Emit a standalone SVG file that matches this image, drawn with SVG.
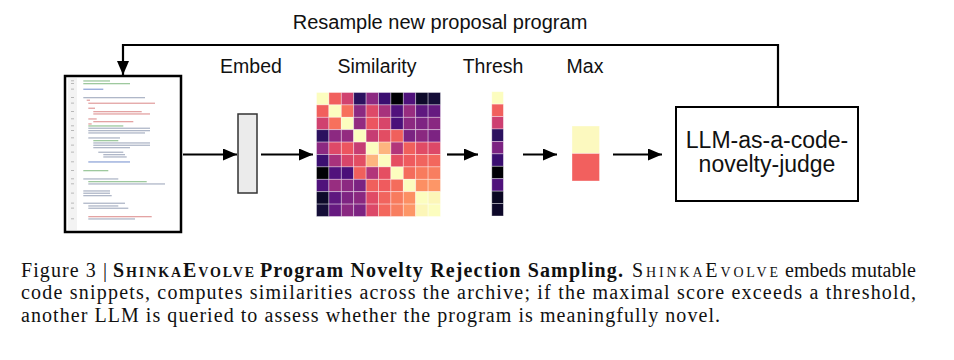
<svg xmlns="http://www.w3.org/2000/svg" width="954" height="360" viewBox="0 0 954 360">
<style>
.lbl{font-family:"Liberation Sans",Arial,sans-serif;font-size:19.5px;fill:#111;text-anchor:middle}
.llm{font-family:"Liberation Sans",Arial,sans-serif;font-size:23px;fill:#111;text-anchor:middle}
.cap{font-family:"Liberation Serif","Times New Roman",serif;font-size:20px;fill:#111}
.sc{font-variant:small-caps}
.b{font-weight:bold}
.conn{fill:none;stroke:#000;stroke-width:2.2}
.hc rect{stroke:#fff;stroke-opacity:.45;stroke-width:.8}
.cd{fill:#6e7c9a;opacity:.55}
.cg{fill:#5ea55e;opacity:.6}
.cr{fill:#d06565;opacity:.6}
.cb{fill:#4a6cc0;opacity:.6}
.ln{fill:#b8b8b8}
</style>
<defs>
<marker id="ah" markerUnits="userSpaceOnUse" markerWidth="15" markerHeight="13" refX="14" refY="6" orient="auto">
<path d="M0,0 L14,6 L0,12 z" fill="#000"/>
</marker>
</defs>

<text class="lbl" x="440" y="29" style="font-size:20px">Resample new proposal program</text>

<g id="connectors">
<path class="conn" d="M778,107 V45 H123 V75" marker-end="url(#ah)"/>
<line class="conn" x1="183" y1="154.5" x2="237" y2="154.5" marker-end="url(#ah)"/>
<line class="conn" x1="261" y1="154.5" x2="313" y2="154.5" marker-end="url(#ah)"/>
<line class="conn" x1="447" y1="154.5" x2="478" y2="154.5" marker-end="url(#ah)"/>
<line class="conn" x1="523" y1="154.5" x2="557" y2="154.5" marker-end="url(#ah)"/>
<line class="conn" x1="613" y1="154.5" x2="662" y2="154.5" marker-end="url(#ah)"/>
</g>

<g id="program">
<rect x="65" y="76" width="116" height="156" fill="#fff" stroke="#000" stroke-width="2.5"/>
<rect x="68" y="78" width="9" height="152" fill="#f3f3f3"/>
<g>
<rect class="cg" x="83.3" y="80.3" width="26.7" height="1.3"/>
<rect class="cg" x="83.3" y="83" width="46.7" height="1.3"/>
<rect class="cb" x="83.3" y="88.6" width="20" height="1.3"/>
<rect class="cd" x="83.3" y="97" width="61.7" height="1.3"/>
<rect class="cr" x="86.7" y="99.6" width="3.3" height="1.3"/>
<rect class="cr" x="88.3" y="102.6" width="66.7" height="1.3"/>
<rect class="cr" x="88.3" y="107.6" width="6.7" height="1.3"/>
<rect class="cr" x="93.3" y="111" width="48.4" height="1.3"/>
<rect class="cr" x="93.3" y="113.3" width="56.7" height="1.3"/>
<rect class="cr" x="88.3" y="118.3" width="8.4" height="1.3"/>
<rect class="cr" x="93.3" y="121" width="40" height="1.3"/>
<rect class="cr" x="88.3" y="123.3" width="3.4" height="1.3"/>
<rect class="cg" x="88.3" y="125.3" width="35" height="1.3"/>
<rect class="cd" x="88.3" y="127.6" width="61.7" height="1.3"/>
<rect class="cd" x="88.3" y="130" width="61.7" height="1.3"/>
<rect class="cd" x="88.3" y="132.3" width="56.7" height="1.3"/>
<rect class="cd" x="88.3" y="137.3" width="31.7" height="1.3"/>
<rect class="cg" x="93.3" y="140" width="25" height="1.3"/>
<rect class="cd" x="93.3" y="142.3" width="56.7" height="1.3"/>
<rect class="cd" x="93.3" y="144.6" width="56.7" height="1.3"/>
<rect class="cd" x="93.3" y="147" width="36.7" height="1.3"/>
<rect class="cd" x="98.3" y="151.6" width="25" height="1.3"/>
<rect class="cd" x="103.3" y="154" width="21.7" height="1.3"/>
<rect class="cd" x="103.3" y="156.3" width="23.4" height="1.3"/>
<rect class="cb" x="88.3" y="161.3" width="41.7" height="1.3"/>
<rect class="cg" x="83.3" y="170" width="25" height="1.3"/>
<rect class="cd" x="83.3" y="178.3" width="35" height="1.3"/>
<rect class="cg" x="88.3" y="181" width="58.4" height="1.3"/>
<rect class="cd" x="88.3" y="183.3" width="76.7" height="1.3"/>
<rect class="cd" x="83.3" y="190.3" width="26.7" height="1.3"/>
<rect class="cd" x="83.3" y="192.6" width="26.7" height="1.3"/>
<rect class="cd" x="83.3" y="195" width="28.4" height="1.3"/>
<rect class="cd" x="83.3" y="202.6" width="41.7" height="1.3"/>
<rect class="cd" x="88.3" y="205.3" width="30" height="1.3"/>
<rect class="cd" x="88.3" y="207.6" width="40" height="1.3"/>
<rect class="cr" x="88.3" y="216" width="63.4" height="1.3"/>
<rect class="cd" x="88.3" y="218.3" width="46.7" height="1.3"/>
</g>
<g>
<rect class="ln" x="71" y="80.3" width="3" height="1"/>
<rect class="ln" x="71" y="83" width="3" height="1"/>
<rect class="ln" x="71" y="88.6" width="3" height="1"/>
<rect class="ln" x="71" y="97" width="3" height="1"/>
<rect class="ln" x="71" y="102.6" width="3" height="1"/>
<rect class="ln" x="71" y="111" width="3" height="1"/>
<rect class="ln" x="71" y="118.3" width="3" height="1"/>
<rect class="ln" x="71" y="125.3" width="3" height="1"/>
<rect class="ln" x="71" y="130" width="3" height="1"/>
<rect class="ln" x="71" y="137.3" width="3" height="1"/>
<rect class="ln" x="71" y="144.6" width="3" height="1"/>
<rect class="ln" x="71" y="151.6" width="3" height="1"/>
<rect class="ln" x="71" y="161.3" width="3" height="1"/>
<rect class="ln" x="71" y="170" width="3" height="1"/>
<rect class="ln" x="71" y="178.3" width="3" height="1"/>
<rect class="ln" x="71" y="183.3" width="3" height="1"/>
<rect class="ln" x="71" y="192.6" width="3" height="1"/>
<rect class="ln" x="71" y="202.6" width="3" height="1"/>
<rect class="ln" x="71" y="207.6" width="3" height="1"/>
<rect class="ln" x="71" y="218.3" width="3" height="1"/>
</g>
</g>

<g id="embed">
<text class="lbl" x="251" y="73">Embed</text>
<rect x="238" y="114" width="19" height="79" fill="#ebebeb" stroke="#333" stroke-width="1.5"/>
</g>

<g id="similarity">
<text class="lbl" x="377" y="73">Similarity</text>
<g class="hc">
<g transform="translate(0,92.5)">
<rect x="316.5" y="0" width="12.4" height="12.4" fill="#fcfdbf"/><rect x="328.9" y="0" width="12.4" height="12.4" fill="#f1605d"/><rect x="341.3" y="0" width="12.4" height="12.4" fill="#d0426f"/><rect x="353.7" y="0" width="12.4" height="12.4" fill="#2c115f"/><rect x="366.1" y="0" width="12.4" height="12.4" fill="#8c2981"/><rect x="378.5" y="0" width="12.4" height="12.4" fill="#3b0f70"/><rect x="390.9" y="0" width="12.4" height="12.4" fill="#000004"/><rect x="403.3" y="0" width="12.4" height="12.4" fill="#4f127b"/><rect x="415.7" y="0" width="12.4" height="12.4" fill="#0d0a2a"/><rect x="428.1" y="0" width="12.4" height="12.4" fill="#150e38"/>
</g>
<g transform="translate(0,104.9)">
<rect x="316.5" y="0" width="12.4" height="12.4" fill="#f1605d"/><rect x="328.9" y="0" width="12.4" height="12.4" fill="#fcfdbf"/><rect x="341.3" y="0" width="12.4" height="12.4" fill="#f7705c"/><rect x="353.7" y="0" width="12.4" height="12.4" fill="#8c2981"/><rect x="366.1" y="0" width="12.4" height="12.4" fill="#de4968"/><rect x="378.5" y="0" width="12.4" height="12.4" fill="#a8327c"/><rect x="390.9" y="0" width="12.4" height="12.4" fill="#51127c"/><rect x="403.3" y="0" width="12.4" height="12.4" fill="#982d80"/><rect x="415.7" y="0" width="12.4" height="12.4" fill="#5f187f"/><rect x="428.1" y="0" width="12.4" height="12.4" fill="#661a80"/>
</g>
<g transform="translate(0,117.3)">
<rect x="316.5" y="0" width="12.4" height="12.4" fill="#d0426f"/><rect x="328.9" y="0" width="12.4" height="12.4" fill="#f7705c"/><rect x="341.3" y="0" width="12.4" height="12.4" fill="#fcfdbf"/><rect x="353.7" y="0" width="12.4" height="12.4" fill="#932b80"/><rect x="366.1" y="0" width="12.4" height="12.4" fill="#ec5560"/><rect x="378.5" y="0" width="12.4" height="12.4" fill="#d8456a"/><rect x="390.9" y="0" width="12.4" height="12.4" fill="#4a1079"/><rect x="403.3" y="0" width="12.4" height="12.4" fill="#8c2981"/><rect x="415.7" y="0" width="12.4" height="12.4" fill="#7e2482"/><rect x="428.1" y="0" width="12.4" height="12.4" fill="#892881"/>
</g>
<g transform="translate(0,129.7)">
<rect x="316.5" y="0" width="12.4" height="12.4" fill="#2c115f"/><rect x="328.9" y="0" width="12.4" height="12.4" fill="#8c2981"/><rect x="341.3" y="0" width="12.4" height="12.4" fill="#932b80"/><rect x="353.7" y="0" width="12.4" height="12.4" fill="#fcfdbf"/><rect x="366.1" y="0" width="12.4" height="12.4" fill="#c63d73"/><rect x="378.5" y="0" width="12.4" height="12.4" fill="#e24d63"/><rect x="390.9" y="0" width="12.4" height="12.4" fill="#f0605c"/><rect x="403.3" y="0" width="12.4" height="12.4" fill="#7b2382"/><rect x="415.7" y="0" width="12.4" height="12.4" fill="#8a2880"/><rect x="428.1" y="0" width="12.4" height="12.4" fill="#7c2382"/>
</g>
<g transform="translate(0,142.1)">
<rect x="316.5" y="0" width="12.4" height="12.4" fill="#8c2981"/><rect x="328.9" y="0" width="12.4" height="12.4" fill="#de4968"/><rect x="341.3" y="0" width="12.4" height="12.4" fill="#ec5560"/><rect x="353.7" y="0" width="12.4" height="12.4" fill="#c63d73"/><rect x="366.1" y="0" width="12.4" height="12.4" fill="#fcfdbf"/><rect x="378.5" y="0" width="12.4" height="12.4" fill="#fdb57f"/><rect x="390.9" y="0" width="12.4" height="12.4" fill="#b2357a"/><rect x="403.3" y="0" width="12.4" height="12.4" fill="#f0605c"/><rect x="415.7" y="0" width="12.4" height="12.4" fill="#e04b65"/><rect x="428.1" y="0" width="12.4" height="12.4" fill="#dc4868"/>
</g>
<g transform="translate(0,154.5)">
<rect x="316.5" y="0" width="12.4" height="12.4" fill="#3b0f70"/><rect x="328.9" y="0" width="12.4" height="12.4" fill="#a8327c"/><rect x="341.3" y="0" width="12.4" height="12.4" fill="#d8456a"/><rect x="353.7" y="0" width="12.4" height="12.4" fill="#e24d63"/><rect x="366.1" y="0" width="12.4" height="12.4" fill="#fdb57f"/><rect x="378.5" y="0" width="12.4" height="12.4" fill="#fcfdbf"/><rect x="390.9" y="0" width="12.4" height="12.4" fill="#e54e62"/><rect x="403.3" y="0" width="12.4" height="12.4" fill="#ef5b5e"/><rect x="415.7" y="0" width="12.4" height="12.4" fill="#f1645e"/><rect x="428.1" y="0" width="12.4" height="12.4" fill="#f3675d"/>
</g>
<g transform="translate(0,166.9)">
<rect x="316.5" y="0" width="12.4" height="12.4" fill="#000004"/><rect x="328.9" y="0" width="12.4" height="12.4" fill="#51127c"/><rect x="341.3" y="0" width="12.4" height="12.4" fill="#4a1079"/><rect x="353.7" y="0" width="12.4" height="12.4" fill="#f0605c"/><rect x="366.1" y="0" width="12.4" height="12.4" fill="#b2357a"/><rect x="378.5" y="0" width="12.4" height="12.4" fill="#e54e62"/><rect x="390.9" y="0" width="12.4" height="12.4" fill="#fcfdbf"/><rect x="403.3" y="0" width="12.4" height="12.4" fill="#f46c5c"/><rect x="415.7" y="0" width="12.4" height="12.4" fill="#f87b5e"/><rect x="428.1" y="0" width="12.4" height="12.4" fill="#f87e60"/>
</g>
<g transform="translate(0,179.3)">
<rect x="316.5" y="0" width="12.4" height="12.4" fill="#4f127b"/><rect x="328.9" y="0" width="12.4" height="12.4" fill="#982d80"/><rect x="341.3" y="0" width="12.4" height="12.4" fill="#8c2981"/><rect x="353.7" y="0" width="12.4" height="12.4" fill="#7b2382"/><rect x="366.1" y="0" width="12.4" height="12.4" fill="#f0605c"/><rect x="378.5" y="0" width="12.4" height="12.4" fill="#ef5b5e"/><rect x="390.9" y="0" width="12.4" height="12.4" fill="#f46c5c"/><rect x="403.3" y="0" width="12.4" height="12.4" fill="#fcfdbf"/><rect x="415.7" y="0" width="12.4" height="12.4" fill="#fc8f63"/><rect x="428.1" y="0" width="12.4" height="12.4" fill="#fd9667"/>
</g>
<g transform="translate(0,191.7)">
<rect x="316.5" y="0" width="12.4" height="12.4" fill="#0d0a2a"/><rect x="328.9" y="0" width="12.4" height="12.4" fill="#5f187f"/><rect x="341.3" y="0" width="12.4" height="12.4" fill="#7e2482"/><rect x="353.7" y="0" width="12.4" height="12.4" fill="#8a2880"/><rect x="366.1" y="0" width="12.4" height="12.4" fill="#e04b65"/><rect x="378.5" y="0" width="12.4" height="12.4" fill="#f1645e"/><rect x="390.9" y="0" width="12.4" height="12.4" fill="#f87b5e"/><rect x="403.3" y="0" width="12.4" height="12.4" fill="#fc8f63"/><rect x="415.7" y="0" width="12.4" height="12.4" fill="#fcfdbf"/><rect x="428.1" y="0" width="12.4" height="12.4" fill="#fcf6b8"/>
</g>
<g transform="translate(0,204.1)">
<rect x="316.5" y="0" width="12.4" height="12.4" fill="#150e38"/><rect x="328.9" y="0" width="12.4" height="12.4" fill="#661a80"/><rect x="341.3" y="0" width="12.4" height="12.4" fill="#892881"/><rect x="353.7" y="0" width="12.4" height="12.4" fill="#7c2382"/><rect x="366.1" y="0" width="12.4" height="12.4" fill="#dc4868"/><rect x="378.5" y="0" width="12.4" height="12.4" fill="#f3675d"/><rect x="390.9" y="0" width="12.4" height="12.4" fill="#f87e60"/><rect x="403.3" y="0" width="12.4" height="12.4" fill="#fd9667"/><rect x="415.7" y="0" width="12.4" height="12.4" fill="#fcf6b8"/><rect x="428.1" y="0" width="12.4" height="12.4" fill="#fcfdbf"/>
</g>
</g>
</g>

<g id="thresh">
<text class="lbl" x="493" y="73">Thresh</text>
<g class="hc">
<rect x="491.8" y="91.7" width="11.6" height="12.43" fill="#fcfdbf"/>
<rect x="491.8" y="104.13" width="11.6" height="12.43" fill="#f1605d"/>
<rect x="491.8" y="116.56" width="11.6" height="12.43" fill="#cd3f71"/>
<rect x="491.8" y="128.99" width="11.6" height="12.43" fill="#2c115f"/>
<rect x="491.8" y="141.42" width="11.6" height="12.43" fill="#7c2382"/>
<rect x="491.8" y="153.85" width="11.6" height="12.43" fill="#3b0f70"/>
<rect x="491.8" y="166.28" width="11.6" height="12.43" fill="#000004"/>
<rect x="491.8" y="178.71" width="11.6" height="12.43" fill="#4f127b"/>
<rect x="491.8" y="191.14" width="11.6" height="12.43" fill="#0a0722"/>
<rect x="491.8" y="203.57" width="11.6" height="12.43" fill="#0d0829"/>
</g>
</g>

<g id="max">
<text class="lbl" x="585" y="73">Max</text>
<g class="hc">
<rect x="572" y="126" width="27.5" height="27.5" fill="#fcf9bf"/>
<rect x="572" y="153.5" width="27.5" height="27.5" fill="#f2605e"/>
</g>
</g>

<g id="llm-judge">
<rect x="676" y="107" width="182" height="94" fill="#fff" stroke="#000" stroke-width="2"/>
<text class="llm" x="767" y="148">LLM-as-a-code-</text>
<text class="llm" x="767" y="172">novelty-judge</text>
</g>

<g id="caption">
<text class="cap" x="21" y="276.5" textLength="86" lengthAdjust="spacing">Figure 3 |</text>
<text class="cap b sc" x="113" y="276.5" textLength="141" lengthAdjust="spacing">ShinkaEvolve</text>
<text class="cap b" x="260" y="276.5" textLength="363" lengthAdjust="spacing">Program Novelty Rejection Sampling.</text>
<text class="cap sc" x="632" y="276.5" textLength="146" lengthAdjust="spacing">ShinkaEvolve</text>
<text class="cap" x="785" y="276.5" textLength="131" lengthAdjust="spacing">embeds mutable</text>
<text class="cap" x="21" y="299" textLength="895" lengthAdjust="spacing">code snippets, computes similarities across the archive; if the maximal score exceeds a threshold,</text>
<text class="cap" x="21" y="321.5" textLength="699" lengthAdjust="spacing">another LLM is queried to assess whether the program is meaningfully novel.</text>
</g>
</svg>
